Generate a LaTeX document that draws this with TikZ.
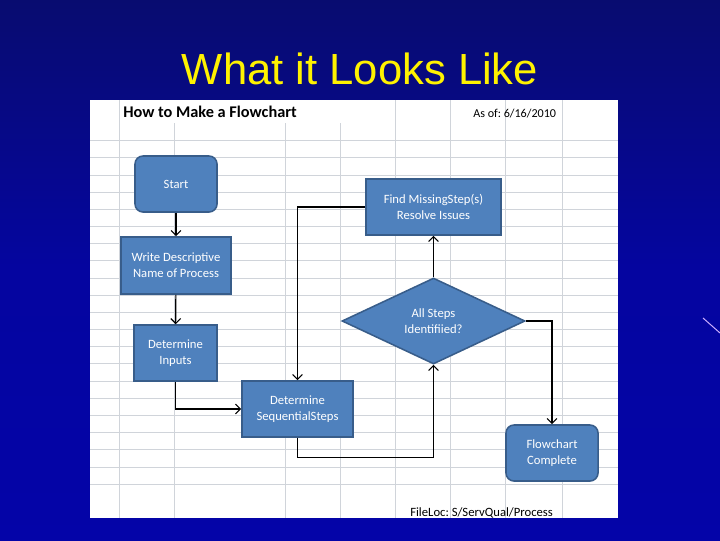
\documentclass[tikz,border=0pt]{standalone}
\usepackage{fontspec}
\setmainfont{Carlito}
\newfontfamily\titlefont{Liberation Sans}
\usepackage{xcolor}
\usetikzlibrary{arrows.meta,shapes.geometric}
\definecolor{slidedark}{RGB}{8,12,112}
\definecolor{slidelight}{RGB}{4,4,168}
\definecolor{boxfill}{RGB}{79,129,189}
\definecolor{boxline}{RGB}{56,93,138}
\definecolor{gridgray}{RGB}{208,212,218}
\definecolor{streak}{RGB}{205,175,255}

\begin{document}
\begin{tikzpicture}[x=0.025cm,y=-0.025cm,
  box/.style={draw=boxline,line width=1.1pt,fill=boxfill,text=white,align=center,
    font=\fontsize{9}{11.4}\selectfont,minimum height=1.4cm,inner sep=1pt},
  roundbox/.style={box,rounded corners=0.2cm},
  decision/.style={box,diamond,aspect=2.1,minimum width=4.575cm,minimum height=2.15cm,inner sep=0pt},
  arr/.style={-{Straight Barb[length=3.5pt,width=7pt]},line width=0.8pt,black}]
\useasboundingbox (0,0) rectangle (720,540);
\shade[top color=slidedark,bottom color=slidelight,middle color=slidelight!85!slidedark] (0,0) rectangle (720,540);
\draw[streak,line width=0.7pt] (703,318)--(720,333);
\node[anchor=base,text=yellow,font=\titlefont\fontsize{31}{36}\selectfont] (title) at (360,84) {What it Looks Like};
% the worksheet
\fill[white] (90,100) rectangle (618,518);
\begin{scope}
\clip (90,100) rectangle (618,518);
\foreach \gx in {119,395,450,505,562} \draw[gridgray,line width=0.6pt] (\gx,100)--(\gx,518);
\foreach \gx in {174,285,340} \draw[gridgray,line width=0.6pt] (\gx,123)--(\gx,518);
\foreach \gy in {0,...,20} \draw[gridgray,line width=0.6pt] (90,140.7+17.17*\gy)--(618,140.7+17.17*\gy);
\node[anchor=base west,font=\bfseries\fontsize{11.6}{14}\selectfont,inner sep=0pt] (sheet) at (123,117) {How to Make a Flowchart};
\node[anchor=base west,font=\fontsize{8.6}{10}\selectfont,inner sep=0pt] (asof) at (473,117) {As of:\ 6/16/2010};
\node[anchor=base west,font=\fontsize{9}{10}\selectfont,inner sep=0pt] (fileloc) at (410,516) {FileLoc:\ S/ServQual/Process};
\end{scope}
% shapes
\node[roundbox,minimum width=2.05cm] (start) at (176,184) {Start};
\node[box,minimum width=2.75cm,minimum height=1.425cm] (name) at (176,265.5) {Write Descriptive\\Name of Process};
\node[box,minimum width=2.075cm] (inputs) at (175.5,353) {Determine\\Inputs};
\node[box,minimum width=2.775cm] (seq) at (297.5,409) {Determine\\SequentialSteps};
\node[box,minimum width=3.375cm] (find) at (433.5,207) {Find MissingStep(s)\\Resolve Issues};
\node[decision] (check) at (433.5,321) {All Steps\\Identifiied?};
\node[roundbox,minimum width=2.3cm] (done) at (552,453) {Flowchart\\Complete};
% connectors
\draw[arr] (start) -- (name);
\draw[arr] (name) -- (inputs);
\draw[arr] (inputs.south) |- (seq.west);
\draw[arr] (seq.south) -- ++(0,20) -| (check.south);
\draw[arr] (check.north) -- (find.south);
\draw[arr] (find.west) -| (seq.north);
\draw[arr] (check.east) -| (done.north);
\end{tikzpicture}
\end{document}
